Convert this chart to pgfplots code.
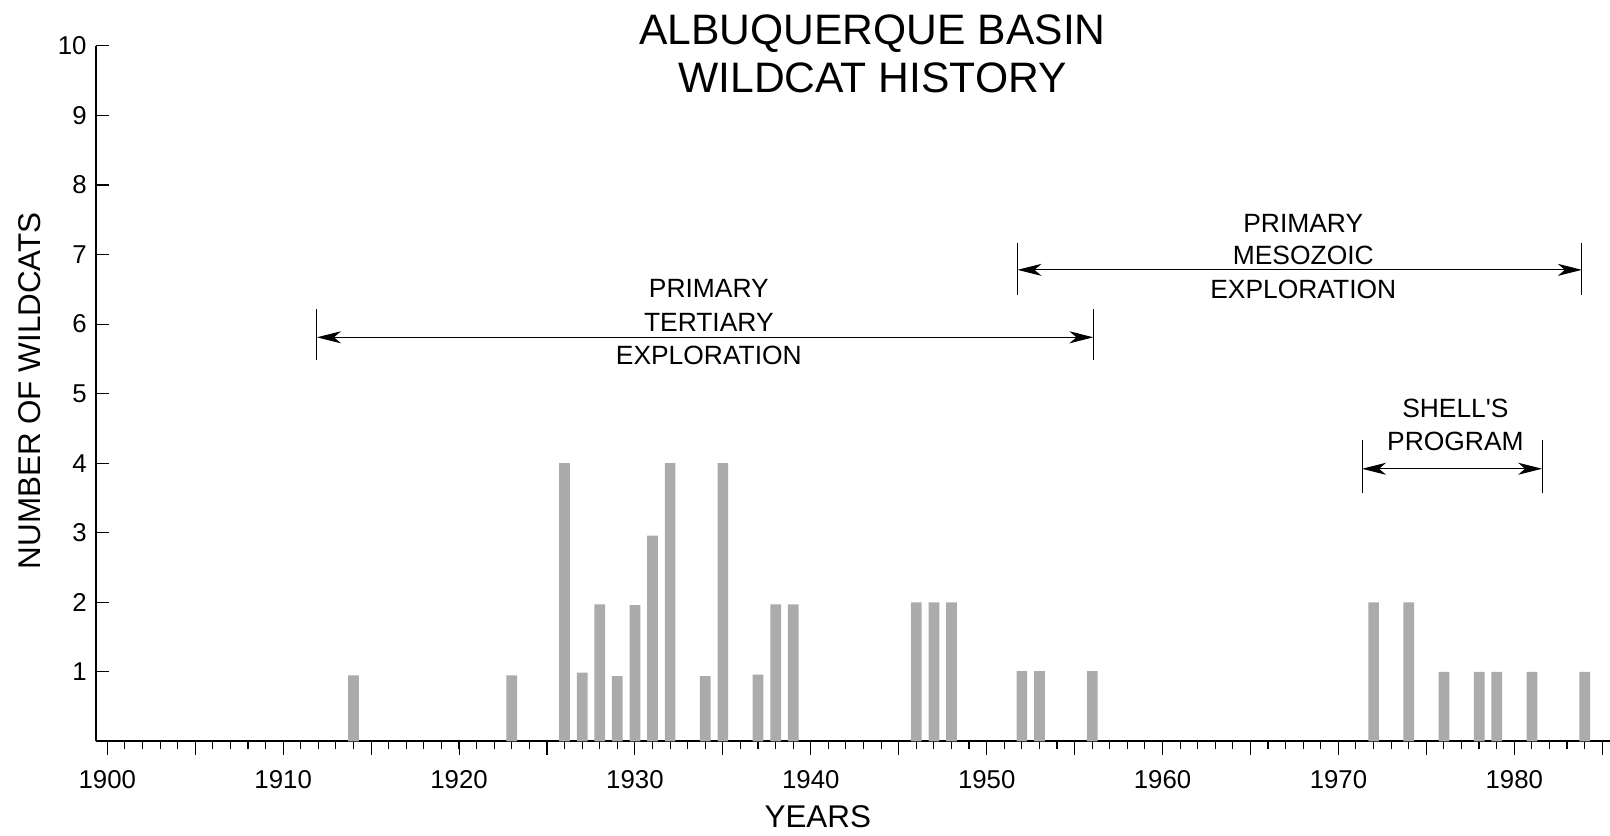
\documentclass[border=0pt]{standalone}
\usepackage{fontspec}
\setmainfont{Liberation Sans}
\usepackage{pgfplots}
\usepackage{pgfplotstable}
\pgfplotsset{compat=1.18}
\usetikzlibrary{arrows.meta}

\pgfplotstableread{
year n
1914 0.95
1923 0.95
1926 4
1927 0.99
1928 1.97
1929 0.94
1930 1.96
1931 2.96
1932 4
1934 0.94
1935 4
1937 0.96
1938 1.97
1939 1.97
1946 2
1947 2
1948 2
1952 1.01
1953 1.01
1956 1.01
1972 2
1974 2
1976 1
1978 1
1979 1
1981 1
1984 1
}\wildcats

\newcommand{\annfont}{\fontsize{13.2}{15}\selectfont}
\tikzset{myarrow/.style={line width=0.5pt, {Stealth[length=12pt,width=6pt,inset=3.5pt]}-{Stealth[length=12pt,width=6pt,inset=3.5pt]}}}

\begin{document}
\begin{tikzpicture}
\begin{axis}[
  scale only axis, width=757.15pt, height=347.75pt,
  xmin=1899.34, xmax=1985.44, ymin=0, ymax=10,
  axis x line*=bottom, axis y line*=left,
  axis line style={line width=1pt},
  xtick={1900,1905,...,1985},
  xticklabels={1900,,1910,,1920,,1930,,1940,,1950,,1960,,1970,,1980,},
  minor xtick={1900,...,1985},
  ytick={1,...,10},
  tick align=inside,
  major tick length=6.8pt, minor tick length=3.8pt,
  tick style={black, line width=0.55pt},
  tick label style={font=\fontsize{12.9}{15}\selectfont, inner sep=0pt},
  xticklabel style={yshift=-7.6pt},
  yticklabel style={xshift=-4.35pt},
  /pgf/number format/assume math mode=true,
  clip=false,
  ybar, bar width=0.61,
]
\addplot[fill=black!33, draw=none] table[x=year,y=n]{\wildcats};
\coordinate (O) at (rel axis cs:0,0);

% Tertiary
\draw[line width=0.5pt] (axis cs:1911.92,5.48) -- (axis cs:1911.92,6.21);
\draw[line width=0.5pt] (axis cs:1956.07,5.48) -- (axis cs:1956.07,6.21);
\draw[myarrow] (axis cs:1911.92,5.81) -- (axis cs:1956.07,5.81);
\node[anchor=base, font=\annfont, inner sep=0pt] at (axis cs:1934.2,6.38) {PRIMARY};
\node[anchor=base, font=\annfont, inner sep=0pt] at (axis cs:1934.2,5.90) {TERTIARY};
\node[anchor=base, font=\annfont, inner sep=0pt] at (axis cs:1934.2,5.42) {EXPLORATION};

% Mesozoic
\draw[line width=0.5pt] (axis cs:1951.75,6.42) -- (axis cs:1951.75,7.17);
\draw[line width=0.5pt] (axis cs:1983.84,6.42) -- (axis cs:1983.84,7.17);
\draw[myarrow] (axis cs:1951.75,6.78) -- (axis cs:1983.84,6.78);
\node[anchor=base, font=\annfont, inner sep=0pt] at (axis cs:1968.0,7.31) {PRIMARY};
\node[anchor=base, font=\annfont, inner sep=0pt] at (axis cs:1968.0,6.85) {MESOZOIC};
\node[anchor=base, font=\annfont, inner sep=0pt] at (axis cs:1968.0,6.37) {EXPLORATION};

% Shell's
\draw[line width=0.5pt] (axis cs:1971.34,3.57) -- (axis cs:1971.34,4.34);
\draw[line width=0.5pt] (axis cs:1981.58,3.57) -- (axis cs:1981.58,4.34);
\draw[myarrow] (axis cs:1971.34,3.92) -- (axis cs:1981.58,3.92);
\node[anchor=base, font=\annfont, inner sep=0pt] at (axis cs:1976.65,4.65) {SHELL\textquotesingle S};
\node[anchor=base, font=\annfont, inner sep=0pt] at (axis cs:1976.65,4.18) {PROGRAM};
\end{axis}

% titles and axis labels
\node[anchor=base, font=\fontsize{21.3}{25}\selectfont, inner sep=0pt] at ([shift={(388.4pt,348.3pt)}]O) {ALBUQUERQUE BASIN};
\node[anchor=base, font=\fontsize{21.3}{25}\selectfont, inner sep=0pt] at ([shift={(388.4pt,324.4pt)}]O) {WILDCAT HISTORY};
\node[rotate=90, anchor=center, font=\fontsize{15.7}{18}\selectfont, inner sep=0pt] at ([shift={(-32.85pt,175.3pt)}]O) {NUMBER OF WILDCATS};
\node[anchor=center, font=\fontsize{15.7}{18}\selectfont, inner sep=0pt] at ([shift={(361.05pt,-37.8pt)}]O) {YEARS};

\pgfresetboundingbox
\path[use as bounding box] ([shift={(-47.85pt,-46.8pt)}]O) rectangle ([shift={(757.15pt,370.7pt)}]O);
\end{tikzpicture}
\end{document}
